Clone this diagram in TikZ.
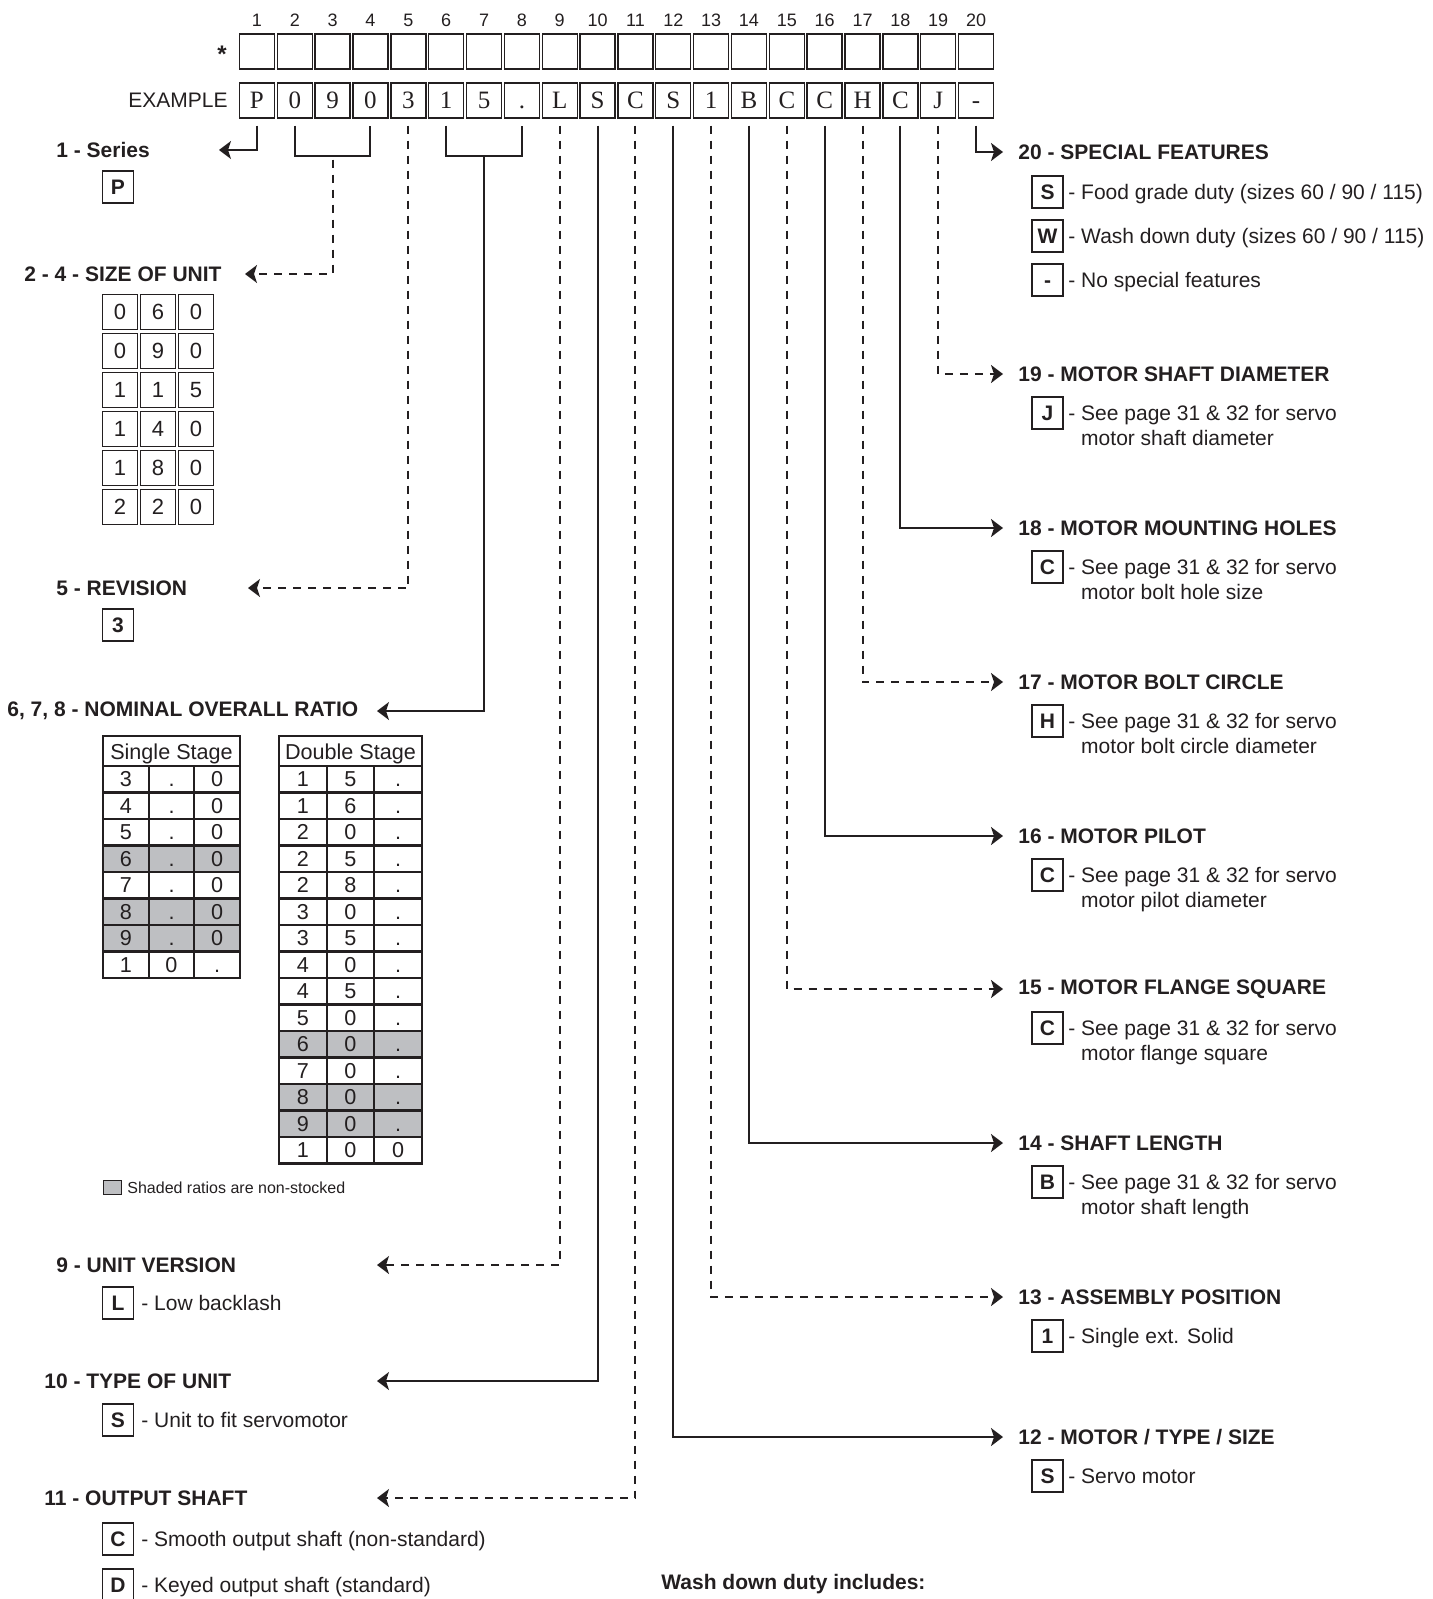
\documentclass[tikz,border=0pt]{standalone}
\usepackage{fontspec}
\setmainfont{Liberation Sans}
\newfontfamily\codefont{Liberation Serif}
\usepackage{tikz}
\usetikzlibrary{arrows.meta, calc}
\usepackage{xcolor}
\definecolor{ink}{RGB}{35,31,32}
\definecolor{shade}{RGB}{190,191,194}

\tikzset{
  cell/.style={draw=ink, line width=0.7pt, minimum width=17.5pt, minimum height=17.5pt, inner sep=0pt},
  sizecell/.style={cell, font=\fontsize{11}{12}\selectfont},
  rcell/.style={draw=ink, line width=1.1pt, minimum height=13.25pt, inner sep=0pt,
    text height=7.7pt, text depth=0pt, font=\fontsize{10.8}{12}\selectfont},
  rhead/.style={rcell, minimum height=15.5pt},
  kbox/.style={draw=ink, line width=0.6pt, minimum width=15.5pt, minimum height=16pt, inner sep=0pt,
    text height=7.5pt, text depth=0pt, font=\bfseries\fontsize{10.5}{12}\selectfont},
  head/.style={anchor=west, inner sep=0pt, font=\bfseries\fontsize{10.5}{12.5}\selectfont},
  desc/.style={anchor=base west, inner sep=0pt, align=left, font=\fontsize{10.5}{12.5}\selectfont},
  sline/.style={draw=ink, line width=1pt},
  dline/.style={draw=ink, line width=1pt, dash pattern=on 4pt off 3.5pt},
  tip/.style={-{Stealth[length=6pt,width=9pt,inset=1.5pt]}},
}

\begin{document}
\begin{tikzpicture}[x=0.5pt, y=-0.5pt, text=ink]
    \useasboundingbox (0,0) rectangle (1432,1599);

    % code rows
    \foreach \ch [count=\i] in {P,0,9,0,3,1,5,.,L,S,C,S,1,B,C,C,H,C,J,-} {
        \node[font=\fontsize{9}{10}\selectfont] (n\i) at ({238+37.85*(\i-0.5)},20) {\i};
        \node[cell] (s\i) at ({238+37.85*(\i-0.5)},51.5) {};
        \node[cell, text height=8.3pt, text depth=0pt, font=\codefont\fontsize{12.5}{14}\selectfont]
            (ex\i) at ({238+37.85*(\i-0.5)},100.5) {\ch};
    }
    \node[anchor=base, inner sep=0pt, font=\bfseries\fontsize{12}{12}\selectfont] (star) at (222,63) {*};
    \node[anchor=east, inner sep=0pt, font=\fontsize{10.5}{12}\selectfont] (exlabel) at (228,100.5) {EXAMPLE};

    % 1
    \coordinate (t1) at (219,150);
    \draw[sline,tip] ([yshift=-3.5pt]ex1.south) |- (t1);
    \node[head] (h1) at (56,150) {1 - Series};
    \node[kbox] (k1) at (118,187) {P};

    % 2 - 4
    \coordinate (b24) at ($(ex2.south)!0.5!(ex4.south)+(0,37)$);
    \coordinate (t24) at (245,274);
    \draw[sline] ([yshift=-3.5pt]ex2.south) |- ($(ex4.south)+(0,37)$) -- ([yshift=-3.5pt]ex4.south);
    \draw[dline,tip] ([yshift=-2pt]b24) |- (t24);
    \node[head] (h24) at (24,274) {2 - 4 - SIZE OF UNIT};
    \foreach \a/\b/\c [count=\r] in {0/6/0,0/9/0,1/1/5,1/4/0,1/8/0,2/2/0} {
        \node[sizecell] (z\r a) at (120,{312+39*(\r-1)}) {\a};
        \node[sizecell] (z\r b) at (158,{312+39*(\r-1)}) {\b};
        \node[sizecell] (z\r c) at (196,{312+39*(\r-1)}) {\c};
    }

    % 5
    \coordinate (t5) at (248,588);
    \draw[dline,tip] ([yshift=-3.5pt]ex5.south) |- (t5);
    \node[head] (h5) at (56,588) {5 - REVISION};
    \node[kbox] (k5) at (118,625) {3};

    % 6, 7, 8
    \coordinate (b68) at ($(ex6.south)!0.5!(ex8.south)+(0,37)$);
    \coordinate (t68) at (377,711);
    \draw[sline] ([yshift=-3.5pt]ex6.south) |- ($(ex8.south)+(0,37)$) -- ([yshift=-3.5pt]ex8.south);
    \draw[sline,tip] (b68) |- (t68);
    \node[head] (h68) at (7,711) {6, 7, 8 - NOMINAL OVERALL RATIO};

    \node[rhead, minimum width=68.5pt] (sshead) at (171.5,751.5) {Single Stage};
    \foreach \a/\b/\c/\g [count=\r] in {3/./0/white,4/./0/white,5/./0/white,6/./0/shade,
                                        7/./0/white,8/./0/shade,9/./0/shade,1/0/./white} {
        \node[rcell, minimum width=22.85pt, fill=\g] (ss\r a) at (125.8,{779.25+26.5*(\r-1)}) {\a};
        \node[rcell, minimum width=22.85pt, fill=\g] (ss\r b) at (171.5,{779.25+26.5*(\r-1)}) {\b};
        \node[rcell, minimum width=22.85pt, fill=\g] (ss\r c) at (217.2,{779.25+26.5*(\r-1)}) {\c};
    }
    \node[rhead, minimum width=71.5pt] (dshead) at (350.5,751.5) {Double Stage};
    \foreach \a/\b/\c/\g [count=\r] in {1/5/./white,1/6/./white,2/0/./white,2/5/./white,2/8/./white,
                                        3/0/./white,3/5/./white,4/0/./white,4/5/./white,5/0/./white,
                                        6/0/./shade,7/0/./white,8/0/./shade,9/0/./shade,1/0/0/white} {
        \node[rcell, minimum width=23.85pt, fill=\g] (ds\r a) at (302.8,{779.25+26.5*(\r-1)}) {\a};
        \node[rcell, minimum width=23.85pt, fill=\g] (ds\r b) at (350.5,{779.25+26.5*(\r-1)}) {\b};
        \node[rcell, minimum width=23.85pt, fill=\g] (ds\r c) at (398.2,{779.25+26.5*(\r-1)}) {\c};
    }
    \node[draw=ink, fill=shade, line width=0.9pt, minimum width=9pt, minimum height=7pt, inner sep=0pt]
        (lgbox) at (112.5,1187.5) {};
    \node[anchor=west, inner sep=0pt, font=\fontsize{8}{9}\selectfont] (lgtext) at (127,1188) {Shaded ratios are non-stocked};

    % 9, 10, 11
    \coordinate (t9) at (377,1265);
    \draw[dline,tip] ([yshift=-3.5pt]ex9.south) |- (t9);
    \node[head] (h9) at (56,1265) {9 - UNIT VERSION};
    \node[kbox] (k9) at (118,1303) {L};
    \node[desc] (d9) at (141,1310.5) {- Low backlash};

    \coordinate (t10) at (377,1381);
    \draw[sline,tip] ([yshift=-3.5pt]ex10.south) |- (t10);
    \node[head] (h10) at (44,1381) {10 - TYPE OF UNIT};
    \node[kbox] (k10) at (118,1420) {S};
    \node[desc] (d10) at (141,1427.5) {- Unit to fit servomotor};

    \coordinate (t11) at (377,1498);
    \draw[dline,tip] ([yshift=-3.5pt]ex11.south) |- (t11);
    \node[head] (h11) at (44,1498) {11 - OUTPUT SHAFT};
    \node[kbox] (k11c) at (118,1539) {C};
    \node[desc] (d11c) at (141,1546.5) {- Smooth output shaft (non-standard)};
    \node[kbox] (k11d) at (118,1585) {D};
    \node[desc] (d11d) at (141,1592.5) {- Keyed output shaft (standard)};

    \node[head] (wash) at (661,1584) {Wash down duty includes:};

    % 20
    \coordinate (t20) at (1003,152);
    \draw[sline,tip] ([yshift=-3.5pt]ex20.south) |- (t20);
    \node[head] (h20) at (1018,152) {20 - SPECIAL FEATURES};
    \node[kbox] (k20s) at (1047.5,192) {S};
    \node[desc] (d20s) at (1068,199.5) {- Food grade duty (sizes 60 / 90 / 115)};
    \node[kbox] (k20w) at (1047.5,236) {W};
    \node[desc] (d20w) at (1068,243.5) {- Wash down duty (sizes 60 / 90 / 115)};
    \node[kbox] (k20n) at (1047.5,280) {-};
    \node[desc] (d20n) at (1068,287.5) {- No special features};

    % 19 - 14
    \foreach \n/\y/\k/\lt/\title/\last in {
        19/374/J/dline/MOTOR SHAFT DIAMETER/shaft diameter,
        18/528/C/sline/MOTOR MOUNTING HOLES/bolt hole size,
        17/682/H/dline/MOTOR BOLT CIRCLE/bolt circle diameter,
        16/836/C/sline/MOTOR PILOT/pilot diameter,
        15/989/C/dline/MOTOR FLANGE SQUARE/flange square,
        14/1143/B/sline/SHAFT LENGTH/shaft length} {
        \coordinate (t\n) at (1003,\y);
        \draw[\lt,tip] ([yshift=-3.5pt]ex\n.south) |- (t\n);
        \node[head] (h\n) at (1018,\y) {\n\ - \title};
        \node[kbox] (k\n) at (1047.5,\y+39) {\k};
        \node[desc] (d\n) at (1068,\y+71.5) {- See page 31 \& 32 for servo\\\phantom{- }motor \last};
    }

    % 13, 12
    \coordinate (t13) at (1003,1297);
    \draw[dline,tip] ([yshift=-3.5pt]ex13.south) |- (t13);
    \node[head] (h13) at (1018,1297) {13 - ASSEMBLY POSITION};
    \node[kbox] (k13) at (1047.5,1336) {1};
    \node[desc] (d13) at (1068,1343.5) {- Single ext. Solid};

    \coordinate (t12) at (1003,1437);
    \draw[sline,tip] ([yshift=-3.5pt]ex12.south) |- (t12);
    \node[head] (h12) at (1018,1437) {12 - MOTOR / TYPE / SIZE};
    \node[kbox] (k12) at (1047.5,1476) {S};
    \node[desc] (d12) at (1068,1483.5) {- Servo motor};
\end{tikzpicture}
\end{document}
